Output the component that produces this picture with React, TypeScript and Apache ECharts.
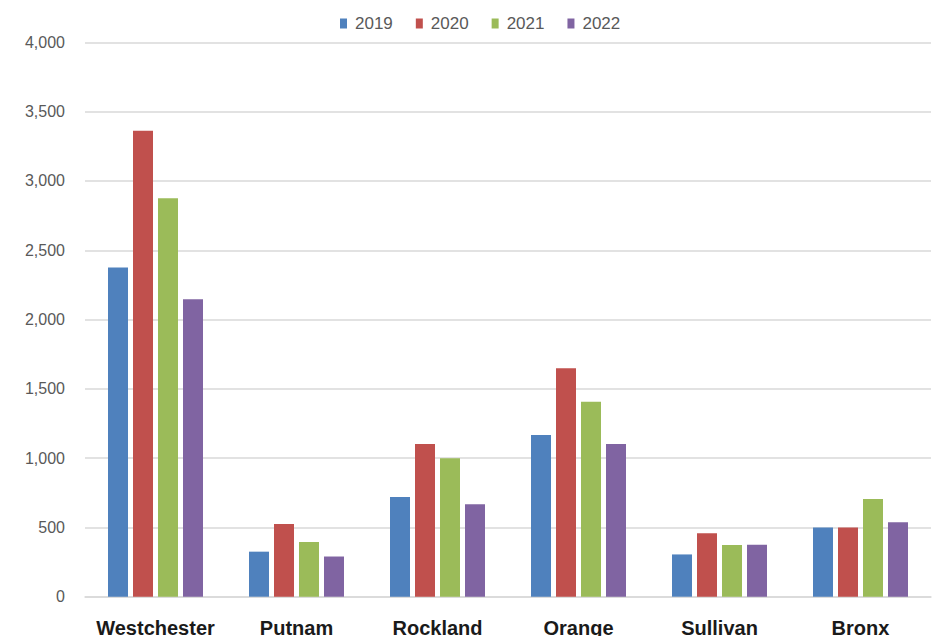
import React, { useEffect, useRef } from "react";
import * as echarts from "echarts";

const categories = ["Westchester", "Putnam", "Rockland", "Orange", "Sullivan", "Bronx"];
const years = ["2019", "2020", "2021", "2022"];
const values2019 = [2375, 325, 720, 1167, 305, 500];
const values2020 = [3362, 525, 1102, 1648, 457, 500];
const values2021 = [2875, 395, 1000, 1407, 373, 705];
const values2022 = [2146, 290, 667, 1102, 375, 537];
const yTicks = { min: 0, max: 4000, interval: 500 };
const colors = ["#4F81BD", "#C0504D", "#9BBB59", "#8064A2"];

export default function App() {
  const ref = useRef<HTMLDivElement>(null);
  useEffect(() => {
    if (!ref.current) return;
    const chart = echarts.init(ref.current, null, { renderer: "svg" });
    const seriesData = [values2019, values2020, values2021, values2022];
    chart.setOption({
      animation: false,
      backgroundColor: "#ffffff",
      color: colors,
      legend: {
        data: years,
        top: 10,
        left: 335,
        itemWidth: 7,
        itemHeight: 10,
        itemGap: 23,
        icon: "rect",
        textStyle: {
          fontFamily: "'Liberation Sans', Arial, sans-serif",
          fontSize: 17,
          color: "#595959",
          padding: [0, 0, 0, 3],
        },
      },
      grid: { left: 85, right: 9, top: 42.4, bottom: 47.3, containLabel: false },
      xAxis: {
        type: "category",
        data: categories,
        axisLine: { show: true, lineStyle: { color: "#d9d9d9", width: 1.5 } },
        axisTick: { show: false },
        axisLabel: {
          interval: 0,
          margin: 21,
          fontFamily: "'Liberation Sans', Arial, sans-serif",
          fontWeight: "bold",
          fontSize: 20,
          color: "#1a1a1a",
        },
      },
      yAxis: {
        type: "value",
        min: yTicks.min,
        max: yTicks.max,
        interval: yTicks.interval,
        axisLine: { show: false },
        axisTick: { show: false },
        splitLine: { lineStyle: { color: "#d9d9d9", width: 1.5 } },
        axisLabel: {
          margin: 20,
          fontFamily: "'Liberation Sans', Arial, sans-serif",
          fontSize: 16,
          color: "#595959",
          formatter: (v: number) => v.toLocaleString("en-US"),
        },
      },
      series: years.map((y, i) => ({
        name: y,
        type: "bar",
        data: seriesData[i],
        barWidth: 20,
        barGap: "25%",
        itemStyle: { color: colors[i] },
      })),
    });
    return () => chart.dispose();
  }, []);
  return <div ref={ref} style={{ width: 940, height: 644, margin: -8 }} />;
}
